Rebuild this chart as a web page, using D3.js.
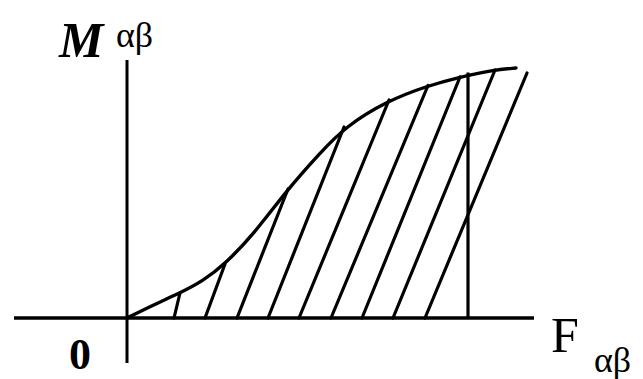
<!DOCTYPE html>
<html>
<head>
<meta charset="utf-8">
<script src="https://cdn.jsdelivr.net/npm/d3@7"></script>
<style>
  html, body { margin: 0; padding: 0; background: #fff; }
  svg { display: block; }
  text { font-family: "Liberation Serif", "DejaVu Serif", serif; fill: #000; }
</style>
</head>
<body>
<svg id="chart" width="643" height="379"></svg>
<script>
// Magnetisation curve M^{αβ}(F_{αβ}), normalised units
const curveF = [0, 0.065, 0.1325, 0.19, 0.245, 0.315, 0.40, 0.4825, 0.545, 0.65, 0.75, 0.8325, 0.915, 0.9725];
const curveM = [0, 0.052, 0.10, 0.148, 0.216, 0.332, 0.512, 0.66, 0.764, 0.868, 0.928, 0.964, 0.992, 1.0];

// Hatching strokes: foot on the F axis, head on (or past) the curve
const hatchBaseF = [0.1175, 0.195, 0.275, 0.3525, 0.43, 0.51, 0.5875, 0.665, 0.745];
const hatchTopF  = [0.1325, 0.245, 0.4025, 0.5425, 0.655, 0.7525, 0.8325, 0.92, 1.0];
const hatchTopM  = [0.10, 0.216, 0.516, 0.764, 0.872, 0.93, 0.964, 0.992, 0.98];

// Vertical marker at the operating point
const markerF = [0.8525];
const markerM = [0.982];

// Axis extents
const fAxisExtent = [-0.2825, 1.0175];
const mAxisExtent = [-0.18, 1.032];

const svg = d3.select("#chart");
const x = d3.scaleLinear().domain([0, 1]).range([127, 527]);
const y = d3.scaleLinear().domain([0, 1]).range([318, 68]);

const ink = "#000";
const sw = 3.2;

// Axes
svg.append("line")
  .attr("x1", x(fAxisExtent[0])).attr("x2", x(fAxisExtent[1]))
  .attr("y1", y(0)).attr("y2", y(0))
  .attr("stroke", ink).attr("stroke-width", 3.4);
svg.append("line")
  .attr("x1", x(0)).attr("x2", x(0))
  .attr("y1", y(mAxisExtent[0])).attr("y2", y(mAxisExtent[1]))
  .attr("stroke", ink).attr("stroke-width", 3);

// Hatching
const hatch = hatchBaseF.map((b, i) => ({ b, tf: hatchTopF[i], tm: hatchTopM[i] }));
svg.append("g").selectAll("line").data(hatch).join("line")
  .attr("x1", d => x(d.b)).attr("y1", y(0))
  .attr("x2", d => x(d.tf)).attr("y2", d => y(d.tm))
  .attr("stroke", ink).attr("stroke-width", sw).attr("stroke-linecap", "round");

// Vertical marker
svg.append("g").selectAll("line").data(markerF).join("line")
  .attr("x1", d => x(d)).attr("x2", d => x(d))
  .attr("y1", y(0)).attr("y2", (d, i) => y(markerM[i]))
  .attr("stroke", ink).attr("stroke-width", sw);

// Curve
const pts = curveF.map((f, i) => [f, curveM[i]]);
svg.append("path")
  .datum(pts)
  .attr("d", d3.line().x(d => x(d[0])).y(d => y(d[1])).curve(d3.curveBasis))
  .attr("fill", "none").attr("stroke", ink).attr("stroke-width", 3.4)
  .attr("stroke-linecap", "round");

// Labels
svg.append("text").attr("x", 59).attr("y", 57)
  .attr("font-size", 50).attr("font-weight", "bold").attr("font-style", "italic").text("M");
svg.append("text").attr("x", 116).attr("y", 47).attr("font-size", 36).text("αβ");

svg.append("text").attr("x", 551).attr("y", 352).attr("font-size", 50).text("F");
svg.append("text").attr("x", 594).attr("y", 372).attr("font-size", 36).text("αβ");

svg.append("text").attr("x", 80).attr("y", 369).attr("text-anchor", "middle")
  .attr("font-size", 44).attr("font-weight", "bold").text("0");
</script>
</body>
</html>
